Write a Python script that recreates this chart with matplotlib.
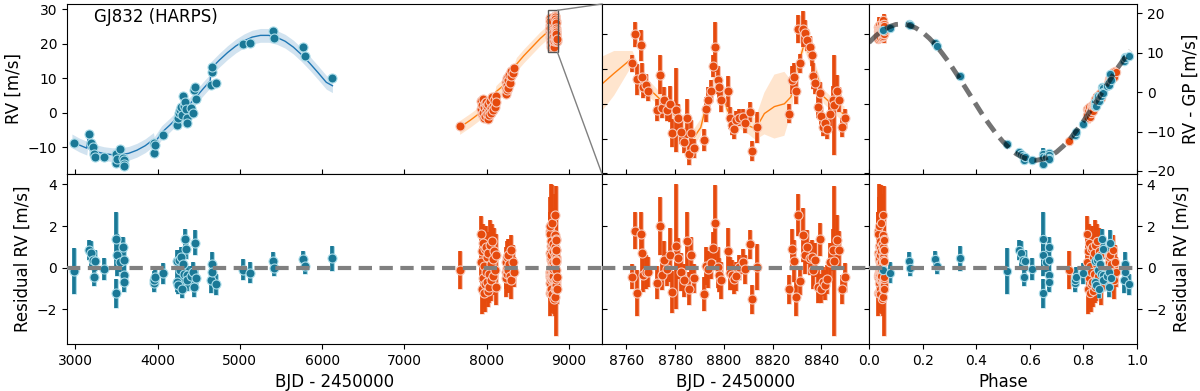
import numpy as np
import matplotlib
matplotlib.use("Agg")
import matplotlib.pyplot as plt
import matplotlib.patheffects as pe
from matplotlib.patches import Rectangle, ConnectionPatch

plt.rcParams['font.family'] = ['DejaVu Sans']
plt.rcParams['font.size'] = 10

# ---------------- data ----------------
PERIOD = 3800.0
T0 = 1033.0

# blue instrument (early HARPS)
blue_t = [2988, 3162, 3190, 3215, 3232, 3238, 3344, 3495, 3498, 3502, 3547, 3583, 3587, 3589, 3591,
          3951, 3955, 3972, 4061,
          4235, 4236, 4247, 4263, 4275, 4283, 4296, 4304, 4316, 4336, 4348, 4356, 4357, 4405, 4429, 4437, 4457, 4470,
          4648, 4660, 4665, 4713, 5036, 5125, 5401, 5409, 5765, 5794, 6117]
blue_rv = [-8.9, -6.3, -8.7, -9.9, -12.0, -12.9, -12.8, -12.0, -14.7, -13.5, -10.6, -13.3, -13.7, -14.9, -15.5,
           -8.7, -11.6, -9.5, -6.5,
           -2.9, -3.6, -1.6, -0.2, 0.8, 1.7, -0.7, 4.9, 1.9, 3.2, 1.0, -1.6, -2.9, 1.3, -0.2, 6.6, 7.5, 3.9,
           8.0, 11.9, 13.3, 8.5, 19.8, 20.1, 23.7, 21.5, 18.9, 16.4, 10.1]
blue_err = [1.1, 0.5, 0.6, 0.5, 0.4, 0.5, 0.55, 1.3, 0.7, 1.0, 0.5, 0.5, 0.6, 0.6, 0.5,
            0.45, 0.45, 0.45, 0.5,
            0.5, 0.5, 0.45, 0.5, 0.55, 0.5, 0.45, 0.5, 0.5, 0.5, 0.5, 0.45, 0.5, 0.5, 0.5, 0.5, 0.6, 0.5,
            0.6, 0.6, 0.5, 0.5, 0.5, 0.5, 0.45, 0.4, 0.4, 0.4, 0.6]
blue_res = [-0.14, 0.85, 0.69, 0.37, -0.46, 0.34, -0.06, 1.4, -1.23, 0.6, 0.29, 1.0, 0.37, -0.35, -0.67,
            -0.72, -0.6, -0.43, -0.27,
            0.34, -0.67, -0.83, 0.37, -0.11, 0.5, -1.0, 0.2, -0.3, 1.36, 0.9, -0.35, -0.6, -0.4, -0.2, -0.9, 1.2, -0.48,
            -0.6, 0.18, -0.2, -0.8, -0.1, -0.24, 0.32, 0.0, 0.4, 0.08, 0.45]
blue_rv_gp = [-13.2, -15.2, -15.6, -16.2, -17.2, -16.4, -17.3, -15.6, -18.2, -16.4, -16.4, -15.4, -16.0, -16.7, -17.1,
              -11.0, -10.8, -10.2, -8.0,
              -2.6, -3.6, -3.4, -1.8, -2.0, -1.1, -2.3, -0.9, -1.0, 1.2, 1.1, 0.05, -0.2, 1.5, 2.3, 1.9, 4.5, 3.2,
              7.8, 8.9, 8.6, 9.2, 15.7, 16.4, 17.3, 17.0, 12.6, 11.8, 4.1]

# orange instrument (later HARPS)
or_t_a = [7675]
or_rv_a = [-4.0]
or_err_a = [0.9]
or_res_a = [-0.1]
or_gp_a = [-12.5]

or_t_b = [7925, 7930, 7938, 7945, 7950, 7955, 7962, 7968, 7975, 7980, 7985, 7992, 7998, 8005, 8010, 8018, 8025, 8032,
          8040, 8048, 8055, 8062, 8070, 8080, 8090, 8100, 8110, 8118]
or_rv_b = [1.0, 3.5, -0.5, 2.2, 0.0, 4.0, -1.5, 1.5, 2.8, -1.0, 0.5, 3.0, -0.3, 1.8, -1.8, 2.5, 0.2, -0.8,
           3.4, 1.2, -0.2, 4.5, 2.0, 0.8, 3.8, 1.5, 4.8, 3.0]
or_err_b = [1.0, 0.9, 1.2, 0.8, 1.1, 0.9, 0.8, 1.0, 0.9, 1.3, 0.8, 1.0, 0.9, 1.1, 0.8, 1.0, 0.9, 0.8,
            1.2, 0.9, 1.0, 0.8, 1.0, 0.9, 1.1, 0.8, 1.0, 0.9]
or_res_b = [0.3, 1.6, -1.0, 0.8, -0.5, 1.2, -1.2, 0.1, 0.9, -0.8, -0.2, 1.0, -0.7, 0.5, -1.1, 0.7, -0.3, -0.9,
            1.1, 0.2, -0.6, 1.3, 0.4, -0.4, 0.8, -0.1, 0.6, -0.9]
or_gp_b = [-5.7, -4.2, -6.6, -4.6, -5.8, -3.9, -6.2, -4.7, -3.7, -5.3, -4.5, -3.2, -4.7, -3.3, -4.7, -2.7, -3.5, -3.9,
           -1.7, -2.4, -3.0, -0.9, -1.6, -2.1, -0.6, -1.3, -0.3, -1.6]

or_t_c = [8228, 8232, 8236, 8240, 8245, 8250, 8255, 8262, 8270, 8280, 8290, 8300, 8315, 8330]
or_rv_c = [7.2, 5.5, 9.0, 6.5, 10.0, 8.0, 7.0, 9.5, 11.0, 8.5, 10.5, 12.2, 11.5, 12.8]
or_err_c = [0.8, 0.7, 0.9, 0.8, 0.7, 0.9, 0.8, 0.7, 0.9, 0.8, 0.7, 0.9, 0.8, 0.7]
or_res_c = [-0.2, 0.3, -0.5, 0.5, 0.0, -0.3, 0.6, -0.1, 0.2, -0.4, 0.85, -0.6, 0.3, -0.2]
or_gp_c = [2.3, 2.9, 2.2, 3.3, 3.0, 2.8, 3.9, 3.4, 3.9, 3.6, 5.15, 3.9, 5.3, 5.2]

or_t_d = [8762.5, 8763.6, 8764.5, 8765.9, 8766.6, 8767.0, 8768.0, 8768.9, 8772.7, 8773.8, 8774.5, 8775.5, 8776.6,
          8777.8, 8778.6, 8780.3, 8781.2, 8782.3, 8783.7, 8784.7, 8785.5, 8786.4, 8787.8, 8791.9, 8792.6, 8793.6,
          8794.7, 8795.6, 8796.4, 8797.4, 8798.1, 8799.0, 8801.5, 8802.6, 8803.3, 8804.2, 8804.9, 8806.3, 8807.7,
          8808.6, 8810.7, 8811.5, 8813.6, 8826.6, 8827.8, 8828.9, 8829.6, 8830.3, 8831.4, 8832.3, 8833.4, 8834.1,
          8835.1, 8836.0, 8836.6, 8837.5, 8838.5, 8839.2, 8839.9, 8840.5, 8841.5, 8842.3, 8843.7, 8844.7, 8845.3,
          8846.3, 8847.1, 8848.4, 8849.7]
or_rv_d = [25.4, 27.5, 24.25, 26.7, 24.45, 23.7, 23.85, 23.4, 22.05, 24.6, 22.2, 22.8, 22.05, 22.5, 20.4, 22.05,
           21.45, 20.5, 19.75, 21.45, 18.9, 20.4, 19.3, 19.9, 22.1, 22.8, 23.4, 25.2, 26.6, 24.2, 23.7, 22.8, 23.4,
           21.5, 20.95, 20.7, 21.3, 21.5, 21.55, 21.1, 21.9, 19.1, 20.8, 21.8, 24.2, 24.45, 23.4, 27.9, 25.4, 27.9,
           27.6, 27.1, 26.6, 26.0, 24.5, 24.0, 22.3, 23.25, 21.6, 20.85, 21.1, 20.7, 21.8, 22.75, 22.4, 23.4, 22.8,
           20.8, 21.45]
or_err_d = [0.6, 0.9, 1.1, 1.1, 1.0, 0.8, 0.8, 0.7, 0.8, 1.4, 0.7, 0.9, 0.8, 1.3, 1.0, 3.0, 1.0, 0.9, 0.8, 1.4,
            0.8, 0.9, 0.7, 0.8, 0.9, 0.9, 0.8, 0.8, 1.8, 1.0, 0.8, 0.9, 1.1, 0.8, 0.7, 0.7, 0.7, 0.6, 0.6, 0.7,
            0.7, 0.7, 1.1, 0.7, 1.0, 1.0, 0.9, 1.0, 0.7, 1.3, 0.9, 0.8, 0.8, 0.8, 0.9, 0.8, 0.8, 0.8, 0.7, 0.7,
            0.7, 0.7, 0.9, 1.0, 3.6, 1.2, 0.9, 0.7, 0.7]
or_res_d = [-0.43, 1.78, -1.23, 1.6, 0.7, -0.35, -0.2, -0.2, -0.72, 2.0, -0.35, 0.37, -0.06, 0.6, -1.15, 1.04,
            0.45, -0.2, -0.6, 1.3, -1.0, 0.6, -0.5, -1.26, 0.08, -0.08, 0.24, 0.93, 2.16, 0.02, -0.35, -0.6, 0.8,
            -0.27, -0.35, -0.56, -0.4, 0.02, 0.29, -0.08, 1.12, -1.52, 0.02, -1.04, 0.88, 0.32, -1.42, 2.53, -0.62,
            1.57, 0.6, 1.0, 0.45, 0.53, -0.1, 0.37, -0.9, 1.36, -1.0, -0.67, -0.83, -0.56, 0.29, 0.85, 0.32, 1.33,
            0.85, -1.04, -0.46]
or_gp_d = [14.37, 16.59, 13.6, 16.44, 15.55, 14.51, 14.67, 14.68, 14.21, 16.95, 14.61, 15.34, 14.93, 15.6, 13.86,
           16.07, 15.5, 14.86, 14.48, 16.39, 14.1, 15.71, 14.63, 13.93, 15.28, 15.13, 15.46, 16.16, 17.41, 15.28,
           14.92, 14.68, 16.11, 15.06, 14.99, 14.79, 14.96, 15.4, 15.68, 15.33, 16.55, 13.92, 15.49, 14.6, 16.54,
           15.99, 14.26, 18.22, 15.08, 17.28, 16.33, 16.74, 16.2, 16.3, 15.67, 16.16, 14.9, 17.17, 14.82, 15.15,
           15.01, 15.29, 16.16, 16.73, 16.21, 17.23, 16.76, 14.89, 15.49]

# model curves
blue_model_t = [2960, 3050, 3140, 3155, 3170, 3250, 3350, 3450, 3550, 3650, 3750, 3850, 3950, 3960, 4050, 4150,
                4250, 4350, 4450, 4550, 4640, 4650, 4750, 4850, 4950, 5050, 5150, 5250, 5350, 5450, 5550, 5650,
                5750, 5850, 5950, 6050, 6125]
blue_model_rv = [-8.2, -9.4, -10.3, -7.5, -10.6, -11.3, -11.9, -12.2, -12.2, -11.8, -10.9, -9.6, -7.8, -9.0,
                 -5.8, -3.6, -1.2, 1.4, 4.0, 6.8, 9.2, 12.8, 15.2, 17.4, 19.3, 20.8, 21.9, 22.4, 22.4, 21.8, 20.7,
                 19.0, 16.8, 14.3, 11.6, 8.8, 7.8]
blue_model_sig = [2.0] * len(blue_model_t)

or_model_t = [7670, 7800, 7900, 7960, 8000, 8050, 8090, 8110, 8150, 8200, 8240, 8280, 8320, 8360, 8450, 8550,
              8650, 8720, 8740,
              8749.5, 8755, 8762.5, 8764.5, 8768.6, 8774, 8779.6, 8784.4, 8787.8, 8790.5, 8793.3, 8796.7, 8798.8,
              8801.5, 8805.6, 8809.7, 8813, 8816.6, 8820.7, 8824.8, 8827.5, 8830.3, 8833, 8837, 8841, 8845.3,
              8849.5]
or_model_rv = [-4.3, -2.2, -0.4, 0.8, 1.6, 2.6, 3.5, 6.0, 6.8, 7.8, 8.6, 9.8, 11.5, 14.0, 16.5, 19.0, 21.5,
               23.0, 23.6,
               23.85, 24.7, 25.8, 24.9, 23.7, 22.8, 21.7, 20.5, 20.1, 20.8, 22.8, 24.5, 23.7, 22.0, 21.3, 20.96,
               20.7, 21.8, 22.3, 22.5, 23.0, 25.2, 26.85, 25.2, 23.0, 22.3, 21.7]
or_model_sig = [2.0, 2.0, 2.0, 1.8, 1.6, 1.6, 1.6, 1.8, 2.0, 2.0, 1.8, 1.8, 1.8, 2.0, 2.0, 2.0, 2.0, 2.0, 2.0,
                2.0, 1.6, 0.5, 0.6, 0.6, 0.5, 0.5, 0.5, 0.6, 0.6, 0.5, 0.5, 0.5, 0.5, 0.5, 0.6, 0.8, 1.5, 2.3,
                2.3, 1.2, 0.5, 0.5, 0.5, 0.5, 0.5, 0.6]

phase_grid = [0.0, 0.025, 0.05, 0.075, 0.1, 0.125, 0.15, 0.175, 0.2, 0.225, 0.25, 0.275, 0.3, 0.325, 0.35,
              0.375, 0.4, 0.425, 0.45, 0.475, 0.5, 0.525, 0.55, 0.575, 0.6, 0.625, 0.65, 0.675, 0.7, 0.725,
              0.75, 0.775, 0.8, 0.825, 0.85, 0.875, 0.9, 0.925, 0.95, 0.975]
phase_model = [12.6, 14.3, 15.7, 16.6, 17.2, 17.3, 17.0, 16.3, 15.2, 13.7, 11.9, 9.7, 7.4, 4.8, 2.2, -0.5, -3.2,
               -5.9, -8.3, -10.6, -12.6, -14.3, -15.7, -16.6, -17.2, -17.3, -17.0, -16.3, -15.2, -13.7, -11.9,
               -9.7, -7.4, -4.8, -2.2, 0.5, 3.2, 5.9, 8.3, 10.6]

# ---------------- arrays ----------------
orange_t = np.array(or_t_a + or_t_b + or_t_c + or_t_d)
orange_rv = np.array(or_rv_a + or_rv_b + or_rv_c + or_rv_d)
orange_err = np.array(or_err_a + or_err_b + or_err_c + or_err_d)
orange_res = np.array(or_res_a + or_res_b + or_res_c + or_res_d)
orange_gp = np.array(or_gp_a + or_gp_b + or_gp_c + or_gp_d)
bt = np.array(blue_t, float)
blue_phase = np.mod((bt - T0) / PERIOD, 1.0)
orange_phase = np.mod((orange_t - T0) / PERIOD, 1.0)

BLUE = '#1a7896'
BLUE_E = '#a9dbe8'
ORANGE = '#e64a0d'
ORANGE_E = '#f8c8b8'


def pts(ax, x, y, e, c, ec, ms=6.5, z=3):
    eb = ax.errorbar(x, y, yerr=e, fmt='o', color=c, ms=ms, mec=ec, mew=0.8,
                     elinewidth=2.6, capsize=0, zorder=z)
    for lc in eb[2]:
        lc.set_path_effects([pe.Stroke(linewidth=3.6, foreground=ec), pe.Normal()])


fig = plt.figure(figsize=(12, 3.91), dpi=100)
W, H = 1200.0, 391.0
def rect(x0, x1, y0, y1):
    return [x0 / W, 1 - y1 / H, (x1 - x0) / W, (y1 - y0) / H]

ax1 = fig.add_axes(rect(67, 602, 4, 174))
ax2 = fig.add_axes(rect(602, 869, 4, 174))
ax3 = fig.add_axes(rect(869, 1137, 4, 174))
bx1 = fig.add_axes(rect(67, 602, 174, 344))
bx2 = fig.add_axes(rect(602, 869, 174, 344))
bx3 = fig.add_axes(rect(869, 1137, 174, 344))

# --- panel 1 top ---
ax1.fill_between(blue_model_t, np.array(blue_model_rv) - np.array(blue_model_sig),
                 np.array(blue_model_rv) + np.array(blue_model_sig), color='#1f77b4', alpha=0.2, lw=0)
ax1.plot(blue_model_t, blue_model_rv, color='#1f77b4', lw=1)
ax1.fill_between(or_model_t, np.array(or_model_rv) - np.array(or_model_sig),
                 np.array(or_model_rv) + np.array(or_model_sig), color='#ff7f0e', alpha=0.2, lw=0)
ax1.plot(or_model_t, or_model_rv, color='#ff7f0e', lw=1)
pts(ax1, blue_t, blue_rv, blue_err, BLUE, BLUE_E)
pts(ax1, orange_t, orange_rv, orange_err, ORANGE, ORANGE_E)
ax1.set_xlim(2900, 9400)
ax1.set_ylim(-17.8, 31.5)
ax1.set_xticks([3000, 4000, 5000, 6000, 7000, 8000, 9000])
ax1.tick_params(axis='x', direction='in', labelbottom=False)
ax1.set_yticks([-10, 0, 10, 20, 30])
ax1.set_ylabel('RV [m/s]', fontsize=12)
ax1.text(0.05, 0.925, 'GJ832 (HARPS)', transform=ax1.transAxes, fontsize=12, va='center', ha='left')

# zoom box and connectors
y_lo, y_hi = 17.45, 29.68
ax1.add_patch(Rectangle((8750, y_lo), 110, y_hi - y_lo, fill=False, ec='#555555', lw=1, zorder=6))
for ya, yb in [(y_hi, 1), (y_lo, 0)]:
    con = ConnectionPatch(xyA=(8860, ya), coordsA=ax1.transData, xyB=(0, yb), coordsB=ax2.transAxes,
                          color='#808080', lw=1, zorder=7)
    fig.add_artist(con)

# --- panel 2 top ---
ax2.fill_between(or_model_t, np.array(or_model_rv) - np.array(or_model_sig),
                 np.array(or_model_rv) + np.array(or_model_sig), color='#ff7f0e', alpha=0.2, lw=0)
ax2.plot(or_model_t, or_model_rv, color='#ff7f0e', lw=1)
pts(ax2, orange_t, orange_rv, orange_err, ORANGE, ORANGE_E)
ax2.set_xlim(8750, 8859.5)
ax2.set_ylim(y_lo, y_hi)
ax2.set_xticks([8760, 8780, 8800, 8820, 8840])
ax2.set_yticks([17.5, 20, 22.5, 25, 27.5])
ax2.tick_params(axis='both', direction='in', labelbottom=False, labelleft=False, right=True)

# --- panel 3 top ---
pts(ax3, orange_phase, orange_gp, orange_err, ORANGE, ORANGE_E, ms=6)
pts(ax3, blue_phase, blue_rv_gp, blue_err, BLUE, BLUE_E, ms=6)
ax3.plot(phase_grid, phase_model, color='k', alpha=0.55, lw=3.5, ls=(0, (2.8, 1.6)), zorder=8)
ax3.set_xlim(0, 1)
ax3.set_ylim(-20.8, 22.4)
ax3.set_xticks([0, 0.2, 0.4, 0.6, 0.8, 1.0])
ax3.set_yticks([-20, -10, 0, 10, 20])
ax3.yaxis.tick_right()
ax3.yaxis.set_label_position('right')
ax3.tick_params(axis='x', direction='in', labelbottom=False)
ax3.set_ylabel('RV - GP [m/s]', fontsize=12)

# --- residual panels ---
for bx in (bx1, bx2, bx3):
    bx.axhline(0, color='#808080', lw=3, ls=(0, (3.2, 1.8)), zorder=8)
    bx.set_ylim(-3.66, 4.5)
    bx.set_yticks([-2, 0, 2, 4])

pts(bx1, blue_t, blue_res, blue_err, BLUE, BLUE_E)
pts(bx1, orange_t, orange_res, orange_err, ORANGE, ORANGE_E)
bx1.set_xlim(2900, 9400)
bx1.set_xticks([3000, 4000, 5000, 6000, 7000, 8000, 9000])
bx1.set_xlabel('BJD - 2450000', fontsize=12)
bx1.set_ylabel('Residual RV [m/s]', fontsize=12)

pts(bx2, orange_t, orange_res, orange_err, ORANGE, ORANGE_E)
bx2.set_xlim(8750, 8859.5)
bx2.set_xticks([8760, 8780, 8800, 8820, 8840])
bx2.tick_params(axis='y', direction='in', labelleft=False, right=True)
bx2.set_xlabel('BJD - 2450000', fontsize=12)

pts(bx3, orange_phase, orange_res, orange_err, ORANGE, ORANGE_E, ms=6)
pts(bx3, blue_phase, blue_res, blue_err, BLUE, BLUE_E, ms=6)
bx3.set_xlim(0, 1)
bx3.set_xticks([0, 0.2, 0.4, 0.6, 0.8, 1.0])
bx3.yaxis.tick_right()
bx3.yaxis.set_label_position('right')
bx3.set_ylabel('Residual RV [m/s]', fontsize=12)
bx3.set_xlabel('Phase', fontsize=12)

fig.savefig('out.png', dpi=100)
